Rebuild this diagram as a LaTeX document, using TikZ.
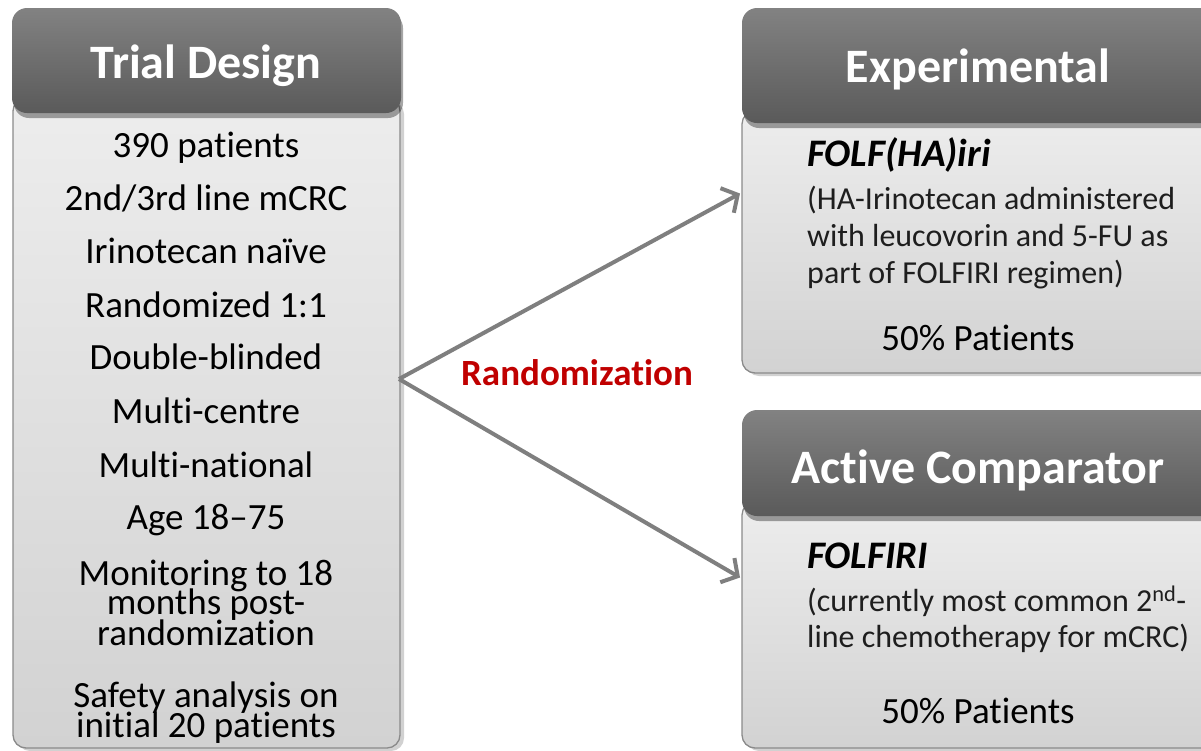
\documentclass[tikz,border=0pt]{standalone}
\usepackage{fontspec}
\setmainfont{Carlito}[Ligatures=NoCommon]
\usetikzlibrary{arrows.meta,shadows}
\definecolor{hdrtop}{HTML}{828282}
\definecolor{hdrbot}{HTML}{5A5A5A}
\definecolor{bodytop}{HTML}{EDEDED}
\definecolor{bodybot}{HTML}{D2D2D2}
\definecolor{edgegray}{HTML}{8A8A8A}
\definecolor{arrowgray}{HTML}{7F7F7F}
\definecolor{randred}{HTML}{C00000}
\definecolor{subtext}{HTML}{1E1E1E}
\begin{document}
\begin{tikzpicture}[x=1pt,y=-1pt,
  bodybox/.style={draw=edgegray, line width=1.3pt, rounded corners=13pt,
    top color=bodytop, bottom color=bodybot, inner sep=0pt, outer sep=0pt,
    drop shadow={shadow xshift=4pt, shadow yshift=-3pt, opacity=0.18, fill=black}},
  hdrbox/.style={draw=none, rounded corners=15pt, top color=hdrtop, bottom color=hdrbot,
    inner sep=0pt, outer sep=0pt,
    drop shadow={shadow xshift=2pt, shadow yshift=-5pt, opacity=0.35, fill=black}},
  hdrtext/.style={font=\fontsize{48}{57}\selectfont\bfseries, text=white, anchor=base, inner sep=0pt},
  listtext/.style={font=\fontsize{37}{44}\selectfont, anchor=base, inner sep=0pt},
  drugname/.style={font=\fontsize{39}{46}\selectfont\bfseries\itshape, anchor=base west, inner sep=0pt},
  subtxt/.style={font=\fontsize{32}{38}\selectfont, text=subtext, anchor=base west, inner sep=0pt},
  share/.style={font=\fontsize{37}{44}\selectfont, anchor=base, inner sep=0pt},
  randarrow/.style={draw=arrowgray, line width=4pt, -{Straight Barb[length=12pt, width=28pt, line width=4pt]}},
  randlabel/.style={font=\fontsize{37}{44}\selectfont\bfseries, text=randred, anchor=base, inner sep=0pt}
]
\useasboundingbox (0,0) rectangle (1201,750);
\clip (0,0) rectangle (1201,750);

% ---------- left: Trial Design ----------
\node[bodybox, minimum width=387pt, minimum height=650pt] (lb) at (206.5,423) {};
\node[hdrbox, minimum width=389pt, minimum height=105pt] (lh) at (206.5,60.5) {};
\node[hdrtext] (lhT) at (206,78) {Trial Design};
\node[listtext] (l1) at (206,157) {390 patients};
\node[listtext] (l2) at (206,210) {2nd/3rd line mCRC};
\node[listtext] (l3) at (206,263) {Irinotecan naïve};
\node[listtext] (l4) at (206,317) {Randomized 1:1};
\node[listtext] (l5) at (206,369) {Double-blinded};
\node[listtext] (l6) at (206,423) {Multi-centre};
\node[listtext] (l7) at (206,477) {Multi-national};
\node[listtext] (l8) at (206,529) {Age 18–75};
\node[listtext] (l9a) at (206,585) {Monitoring to 18};
\node[listtext] (l9b) at (206,614) {months post-};
\node[listtext] (l9c) at (206,645) {randomization};
\node[listtext] (l10a) at (206,707) {Safety analysis on};
\node[listtext] (l10b) at (206,737) {initial 20 patients};

% ---------- right top: Experimental ----------
\node[bodybox, minimum width=474pt, minimum height=262pt] (eb) at (979,242) {};
\node[hdrbox, minimum width=474pt, minimum height=115pt] (eh) at (979,65.5) {};
\node[hdrtext] (ehT) at (978,82) {Experimental};
\node[drugname] (e1) at (807,166) {FOLF(HA)iri};
\node[subtxt] (e2) at (807,209) {(HA-Irinotecan administered};
\node[subtxt] (e3) at (807,246) {with leucovorin and 5-FU as};
\node[subtxt] (e4) at (807,283) {part of FOLFIRI regimen)};
\node[share] (e5) at (978,350) {50\% Patients};

% ---------- right bottom: Active Comparator ----------
\node[bodybox, minimum width=474pt, minimum height=246pt] (ab) at (979,625) {};
\node[hdrbox, minimum width=474pt, minimum height=106pt] (ah) at (979,463) {};
\node[hdrtext] (ahT) at (978,483) {Active Comparator};
\node[drugname] (a1) at (807,568) {FOLFIRI};
\node[subtxt] (a2) at (807,611) {(currently most common 2\textsuperscript{nd}-};
\node[subtxt] (a3) at (807,647) {line chemotherapy for mCRC)};
\node[share] (a4) at (978,723) {50\% Patients};

% ---------- randomization arrows ----------
\coordinate (split) at (399,379);
\coordinate (toExp) at (740,193.5);
\coordinate (toAct) at (740,577.5);
\draw[randarrow] (split) -- (toExp);
\draw[randarrow] (split) -- (toAct);
\node[randlabel] (rand) at (577,385) {Randomization};
\end{tikzpicture}
\end{document}
